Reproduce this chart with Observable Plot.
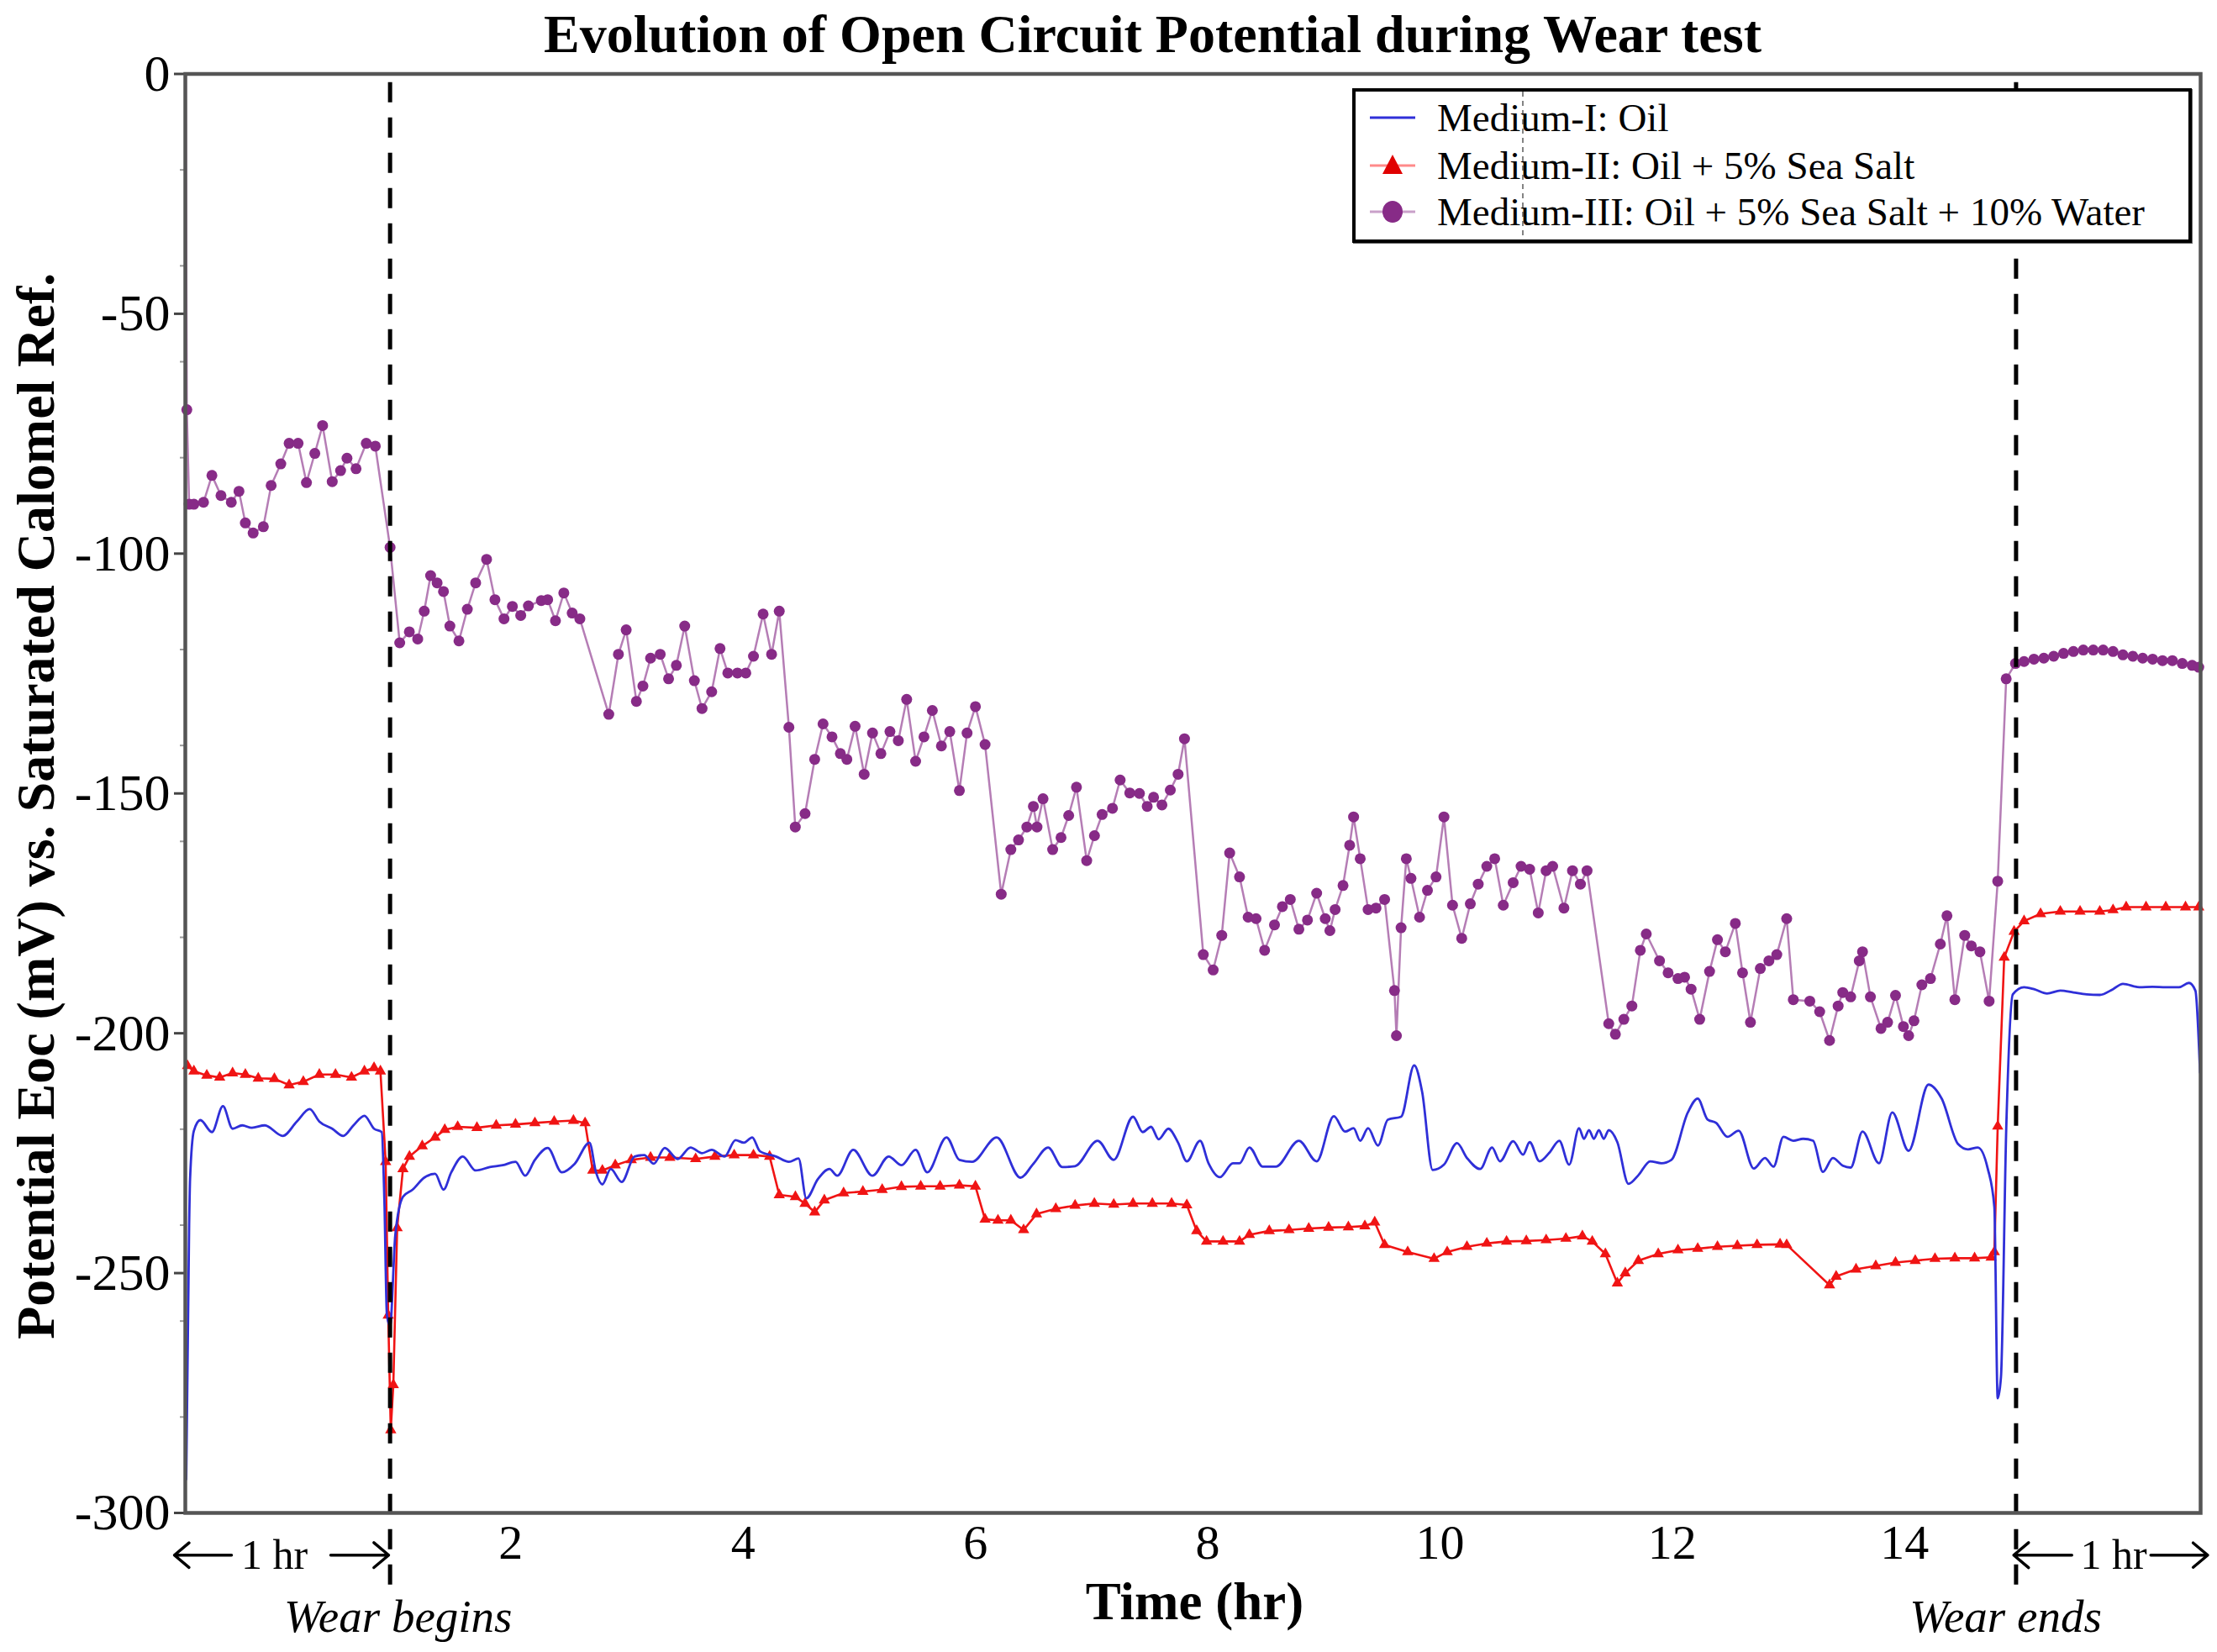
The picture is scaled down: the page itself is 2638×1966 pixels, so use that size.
<!DOCTYPE html>
<html>
<head>
<meta charset="utf-8">
<script src="https://cdn.jsdelivr.net/npm/d3@7"></script>
<script src="https://cdn.jsdelivr.net/npm/@observablehq/plot@0.6"></script>
<style>
  html, body { margin: 0; padding: 0; background: #fff; }
  #wrap { position: relative; width: 2638px; height: 1966px; overflow: hidden; }
  #legend { position: absolute; left: 1609px; top: 105px; width: 991px; height: 176px;
            border: 4px solid #000; background: #fff; box-shadow: 1px 1px 0 #666; }
  #legend svg { display: block; }
</style>
</head>
<body>
<div id="wrap"></div>
<script>
// ---------------- data (time in hours, potential in mV) ----------------
const title = "Evolution of Open Circuit Potential during Wear test";
const yLabel = "Potential Eoc (mV) vs. Saturated Calomel Ref.";
const xLabel = "Time (hr)";
const seriesNames = ["Medium-I: Oil", "Medium-II: Oil + 5% Sea Salt", "Medium-III: Oil + 5% Sea Salt + 10% Water"];
const yTicks = [0, -50, -100, -150, -200, -250, -300];
const yMinorTicks = [-20, -40, -60, -80, -120, -140, -160, -180, -220, -240, -260, -280];
const xTicks = [2, 4, 6, 8, 10, 12, 14];
const xDomain = [-0.803, 16.549];
const yDomain = [-300, 0];
const wearTimes = [0.96, 14.96];
const wearLabels = [{t: 1.03, label: "Wear begins"}, {t: 14.87, label: "Wear ends"}];
const hourLabels = [{t: -0.036, label: "1 hr"}, {t: 15.80, label: "1 hr"}];
const hourArrows = [{a: -0.405, b: -0.897}, {a: 0.449, b: 0.948}, {a: 15.44, b: 14.94}, {a: 16.12, b: 16.61}];
const arrowLevel = -308.8;
const ruleTop = -1.8, ruleBottom = -316.3;

// Medium-I: Oil (blue)
const oil = [[-0.795,-293.0],[-0.770,-240],[-0.762,-230.4],[-0.729,-220.3],[-0.673,-218.1],[-0.574,-220.6],[-0.479,-215.2],[-0.396,-219.9],[-0.313,-219.2],[-0.230,-219.7],[-0.119,-219.2],[0.036,-221.4],[0.157,-218.4],[0.268,-215.8],[0.351,-218.4],[0.462,-219.9],[0.556,-221.4],[0.645,-219.2],[0.739,-217.2],[0.822,-219.9],[0.888,-220.6],[0.911,-234.8],[0.933,-258.8],[0.960,-261.0],[1.005,-242.1],[1.071,-234.1],[1.154,-232.6],[1.254,-230.1],[1.348,-229.3],[1.420,-232.6],[1.487,-229.0],[1.586,-225.7],[1.697,-228.6],[1.819,-227.9],[1.930,-227.5],[2.040,-226.8],[2.123,-229.7],[2.207,-226.4],[2.317,-223.9],[2.439,-229.0],[2.550,-227.2],[2.677,-222.8],[2.733,-229.0],[2.788,-231.5],[2.860,-228.3],[2.954,-231.0],[3.065,-225.7],[3.148,-225.4],[3.231,-227.2],[3.325,-223.9],[3.436,-226.2],[3.547,-223.8],[3.646,-225.0],[3.729,-224.3],[3.840,-225.7],[3.934,-222.3],[4.006,-222.8],[4.078,-221.7],[4.145,-224.6],[4.283,-225.7],[4.394,-226.8],[4.477,-226.1],[4.544,-234.4],[4.644,-230.4],[4.743,-228.3],[4.810,-229.7],[4.948,-224.3],[5.114,-229.7],[5.253,-225.7],[5.364,-227.5],[5.485,-224.3],[5.585,-229.0],[5.751,-221.7],[5.862,-226.4],[5.972,-226.8],[6.183,-221.7],[6.388,-230.1],[6.499,-227.2],[6.626,-223.8],[6.748,-227.9],[6.858,-227.7],[7.052,-222.4],[7.191,-226.4],[7.357,-217.4],[7.440,-220.6],[7.512,-219.5],[7.578,-222.1],[7.661,-219.9],[7.745,-222.8],[7.820,-226.7],[7.934,-222.4],[8.007,-227.1],[8.104,-230.0],[8.217,-227.1],[8.274,-227.1],[8.359,-223.8],[8.473,-227.8],[8.586,-227.8],[8.785,-222.4],[8.938,-226.7],[9.086,-217.3],[9.183,-220.5],[9.256,-219.8],[9.313,-222.4],[9.381,-219.8],[9.466,-223.4],[9.551,-218.0],[9.665,-217.4],[9.778,-206.7],[9.846,-212.2],[9.937,-228.5],[10.034,-227.4],[10.147,-222.9],[10.232,-226.0],[10.346,-228.3],[10.448,-223.8],[10.516,-226.7],[10.630,-222.5],[10.715,-225.3],[10.772,-222.7],[10.857,-226.7],[10.942,-224.9],[11.027,-222.4],[11.112,-227.4],[11.197,-219.8],[11.240,-222.0],[11.283,-220.2],[11.325,-222.0],[11.368,-220.2],[11.410,-222.0],[11.453,-220.2],[11.527,-222.7],[11.623,-231.4],[11.708,-229.6],[11.810,-226.7],[11.907,-227.1],[11.992,-226.4],[12.134,-216.5],[12.219,-213.6],[12.304,-218.0],[12.378,-218.7],[12.475,-221.6],[12.571,-220.3],[12.702,-228.2],[12.798,-226.0],[12.872,-227.8],[12.957,-221.6],[13.042,-222.4],[13.127,-222.0],[13.212,-222.4],[13.297,-228.9],[13.383,-226.0],[13.468,-227.6],[13.536,-228.0],[13.638,-220.5],[13.780,-227.1],[13.894,-216.5],[14.035,-224.5],[14.206,-210.7],[14.319,-213.6],[14.461,-223.1],[14.546,-224.2],[14.631,-223.8],[14.716,-228.2],[14.773,-236.2],[14.802,-276.1],[14.830,-271.7],[14.876,-219.4],[14.932,-191.9],[15.029,-190.4],[15.114,-190.8],[15.227,-191.7],[15.341,-191.1],[15.454,-191.5],[15.568,-191.9],[15.681,-192.0],[15.795,-190.8],[15.880,-189.7],[16.022,-190.4],[16.135,-190.3],[16.249,-190.4],[16.363,-190.4],[16.448,-189.5],[16.504,-191.1],[16.544,-208.2]];

// Medium-II: Oil + 5% Sea Salt (red)
const oilSalt = [[-0.784,-206.8],[-0.729,-207.9],[-0.618,-208.8],[-0.507,-209.2],[-0.396,-208.3],[-0.286,-208.6],[-0.175,-209.4],[-0.036,-209.5],[0.091,-210.8],[0.213,-210.1],[0.351,-208.6],[0.490,-208.6],[0.628,-209.2],[0.739,-207.9],[0.822,-207.2],[0.877,-207.9],[0.922,-226.8],[0.944,-258.8],[0.966,-282.7],[0.988,-273.3],[1.021,-240.6],[1.071,-228.3],[1.127,-225.7],[1.237,-223.5],[1.348,-221.7],[1.431,-220.1],[1.542,-219.5],[1.708,-219.7],[1.874,-219.2],[2.040,-219.0],[2.207,-218.7],[2.373,-218.4],[2.539,-218.2],[2.639,-218.7],[2.705,-228.6],[2.788,-228.6],[2.899,-227.5],[3.037,-226.4],[3.203,-225.9],[3.369,-225.9],[3.591,-226.2],[3.757,-225.7],[3.923,-225.4],[4.089,-225.4],[4.228,-225.7],[4.311,-233.7],[4.450,-234.1],[4.533,-235.5],[4.616,-237.3],[4.699,-234.8],[4.865,-233.3],[5.031,-233.0],[5.197,-232.6],[5.363,-232.0],[5.529,-231.9],[5.696,-231.9],[5.862,-231.7],[6.000,-231.9],[6.083,-238.8],[6.194,-239.0],[6.305,-239.0],[6.415,-241.0],[6.526,-237.7],[6.692,-236.6],[6.858,-235.9],[7.024,-235.5],[7.191,-235.7],[7.357,-235.5],[7.523,-235.5],[7.689,-235.5],[7.820,-235.8],[7.905,-241.2],[7.990,-243.4],[8.132,-243.4],[8.274,-243.4],[8.359,-242.0],[8.530,-241.2],[8.700,-241.0],[8.870,-240.7],[9.041,-240.5],[9.211,-240.4],[9.353,-240.2],[9.438,-239.4],[9.523,-244.1],[9.722,-245.6],[9.949,-247.0],[10.062,-245.6],[10.232,-244.5],[10.403,-243.8],[10.573,-243.4],[10.743,-243.3],[10.914,-243.1],[11.084,-242.8],[11.226,-242.3],[11.311,-243.4],[11.424,-246.0],[11.527,-252.1],[11.595,-250.0],[11.708,-247.4],[11.879,-246.0],[12.049,-245.2],[12.219,-244.9],[12.389,-244.5],[12.560,-244.3],[12.730,-244.1],[12.928,-244.0],[12.985,-244.1],[13.354,-252.5],[13.411,-250.7],[13.582,-249.2],[13.752,-248.5],[13.922,-247.8],[14.092,-247.4],[14.262,-247.0],[14.433,-246.9],[14.603,-246.9],[14.745,-246.7],[14.773,-245.6],[14.802,-219.4],[14.858,-184.2],[14.943,-178.8],[15.029,-176.6],[15.171,-175.1],[15.341,-174.6],[15.511,-174.6],[15.681,-174.6],[15.795,-174.3],[15.908,-173.7],[16.079,-173.7],[16.249,-173.7],[16.419,-173.7],[16.533,-173.7]];

// Medium-III: Oil + 5% Sea Salt + 10% Water (purple)
const oilSaltWater = [[-0.800,0],[-0.790,-70.0],[-0.770,-89.7],[-0.729,-89.7],[-0.646,-89.3],[-0.574,-83.7],[-0.496,-87.9],[-0.407,-89.3],[-0.341,-87.0],[-0.286,-93.6],[-0.219,-95.7],[-0.131,-94.4],[-0.064,-85.8],[0.019,-81.3],[0.091,-77.0],[0.168,-77.0],[0.240,-85.2],[0.312,-79.1],[0.379,-73.3],[0.462,-85.0],[0.534,-82.7],[0.589,-80.1],[0.667,-82.3],[0.755,-77.0],[0.833,-77.6],[0.960,-98.7],[1.043,-118.6],[1.126,-116.3],[1.198,-117.8],[1.254,-112.0],[1.309,-104.6],[1.365,-106.1],[1.420,-107.9],[1.475,-115.1],[1.553,-118.2],[1.625,-111.6],[1.697,-106.1],[1.791,-101.2],[1.863,-109.6],[1.941,-113.6],[2.013,-111.0],[2.085,-112.9],[2.151,-110.9],[2.262,-109.8],[2.317,-109.6],[2.384,-114.0],[2.456,-108.2],[2.528,-112.4],[2.594,-113.6],[2.843,-133.5],[2.926,-121.0],[2.993,-115.9],[3.081,-130.8],[3.137,-127.6],[3.203,-121.8],[3.286,-121.0],[3.358,-126.1],[3.425,-123.3],[3.497,-115.1],[3.580,-126.5],[3.646,-132.3],[3.729,-128.8],[3.801,-119.8],[3.868,-124.9],[3.951,-124.9],[4.023,-124.9],[4.089,-121.4],[4.172,-112.6],[4.245,-121.0],[4.311,-112.0],[4.394,-136.2],[4.449,-157.0],[4.533,-154.2],[4.616,-142.9],[4.688,-135.5],[4.765,-138.2],[4.837,-141.7],[4.893,-142.9],[4.964,-136.0],[5.042,-146.0],[5.114,-137.4],[5.186,-141.7],[5.264,-137.1],[5.336,-139.0],[5.408,-130.4],[5.485,-143.3],[5.557,-138.2],[5.629,-132.7],[5.707,-140.1],[5.779,-137.1],[5.862,-149.4],[5.928,-137.4],[6.000,-131.9],[6.083,-139.8],[6.222,-171.0],[6.305,-161.7],[6.371,-159.7],[6.443,-157.0],[6.499,-152.7],[6.530,-157.0],[6.582,-151.1],[6.665,-161.7],[6.737,-159.2],[6.803,-154.6],[6.870,-148.7],[6.958,-164.0],[7.025,-158.8],[7.091,-154.4],[7.180,-153.1],[7.246,-147.2],[7.329,-149.9],[7.412,-150.0],[7.479,-152.7],[7.534,-150.8],[7.606,-152.4],[7.678,-149.3],[7.745,-146.0],[7.800,-138.6],[7.962,-183.6],[8.047,-186.8],[8.121,-179.6],[8.189,-162.4],[8.274,-167.4],[8.348,-175.8],[8.416,-176.1],[8.490,-182.7],[8.575,-177.4],[8.643,-173.6],[8.711,-172.1],[8.785,-178.3],[8.859,-176.4],[8.938,-170.8],[9.012,-176.1],[9.052,-178.6],[9.097,-174.2],[9.165,-169.2],[9.222,-160.8],[9.256,-154.9],[9.313,-163.6],[9.381,-174.2],[9.449,-173.9],[9.523,-172.1],[9.608,-191.1],[9.625,-200.5],[9.665,-178.0],[9.710,-163.6],[9.750,-167.7],[9.824,-175.8],[9.892,-170.2],[9.966,-167.4],[10.034,-154.9],[10.108,-173.3],[10.187,-180.2],[10.261,-173.0],[10.329,-168.9],[10.403,-165.2],[10.471,-163.6],[10.545,-173.3],[10.630,-168.6],[10.698,-165.2],[10.772,-165.8],[10.846,-174.9],[10.914,-166.1],[10.970,-165.2],[11.067,-173.9],[11.141,-166.1],[11.209,-168.9],[11.266,-166.1],[11.453,-198.0],[11.510,-200.2],[11.583,-197.1],[11.652,-194.3],[11.725,-182.7],[11.776,-179.3],[11.890,-184.9],[11.964,-187.4],[12.049,-188.6],[12.106,-188.3],[12.162,-190.8],[12.236,-197.1],[12.321,-187.1],[12.389,-180.5],[12.457,-183.0],[12.543,-177.1],[12.605,-187.4],[12.673,-197.7],[12.758,-186.5],[12.832,-184.9],[12.900,-183.6],[12.985,-176.1],[13.042,-193.0],[13.184,-193.3],[13.269,-195.5],[13.354,-201.5],[13.428,-194.3],[13.468,-191.5],[13.536,-192.4],[13.610,-184.9],[13.638,-183.0],[13.706,-192.4],[13.797,-199.0],[13.854,-197.7],[13.922,-192.1],[13.990,-198.6],[14.035,-200.5],[14.081,-197.4],[14.149,-189.9],[14.223,-188.6],[14.308,-181.4],[14.365,-175.5],[14.433,-193.0],[14.518,-179.6],[14.575,-181.8],[14.649,-183.0],[14.728,-193.3],[14.802,-168.3],[14.875,-126.1],[14.955,-122.9],[15.029,-122.5],[15.114,-122.0],[15.199,-121.8],[15.284,-121.4],[15.369,-120.8],[15.454,-120.4],[15.539,-120.1],[15.625,-120.1],[15.710,-120.1],[15.795,-120.4],[15.880,-121.1],[15.965,-121.4],[16.050,-121.8],[16.136,-122.0],[16.221,-122.3],[16.306,-122.3],[16.391,-122.9],[16.476,-123.3],[16.533,-123.7]];

// ---------------- styles ----------------
const C_OIL = "#2f2fd8", C_SALT = "#f01414", C_WATER_LINE = "#b57db5", C_WATER_DOT = "#872b87";
const FONT = '"Liberation Serif", "Times New Roman", serif';

const T = d => d[0], V = d => d[1];

const chart = Plot.plot({
  width: 2638,
  height: 1966,
  marginTop: 87.5,
  marginLeft: 220,
  marginRight: 20,
  marginBottom: 166,
  style: {fontFamily: FONT, background: "#fff", overflow: "visible", color: "#000"},
  x: {domain: xDomain},
  y: {domain: yDomain},
  marks: [
    Plot.axisY(yMinorTicks, {tickSize: 6, tickFormat: () => "", stroke: "#9a9a9a", strokeWidth: 2, label: null}),
    Plot.axisY(yTicks, {tickSize: 13, tickPadding: 5, fontSize: 62, stroke: "#444", strokeWidth: 3, tickFormat: d => String(d), label: null}),
    Plot.axisX(xTicks, {tickSize: 0, tickPadding: 13, fontSize: 58, tickFormat: d => String(d), label: null}),
    // data
    Plot.line(oilSaltWater, {x: T, y: V, stroke: C_WATER_LINE, strokeWidth: 2.5}),
    Plot.dot(oilSaltWater.filter(d => d[1] < -5), {x: T, y: V, r: 6.5, fill: C_WATER_DOT, stroke: "none"}),
    Plot.line(oilSalt, {x: T, y: V, stroke: C_SALT, strokeWidth: 2.6}),
    Plot.dot(oilSalt, {x: T, y: V, symbol: "triangle", r: 5, fill: C_SALT, stroke: "none"}),
    Plot.line(oil, {x: T, y: V, stroke: C_OIL, strokeWidth: 2.8, curve: "monotone-x"}),
    // wear markers
    Plot.ruleX(wearTimes, {y1: ruleTop, y2: ruleBottom, stroke: "#000", strokeWidth: 5, strokeDasharray: "24,18"}),
    Plot.frame({stroke: "#555", strokeWidth: 4.5}),
    // annotations
    Plot.arrow(hourArrows, {x1: "a", x2: "b", y1: arrowLevel, y2: arrowLevel, stroke: "#000", strokeWidth: 3.5, headLength: 24, headAngle: 80}),
    Plot.text(hourLabels, {x: "t", text: "label", frameAnchor: "bottom", lineAnchor: "middle", dy: 50, fontSize: 50}),
    Plot.text(wearLabels, {x: "t", text: "label", frameAnchor: "bottom", lineAnchor: "middle", dy: 124, fontSize: 55, fontStyle: "italic"}),
    Plot.text([xLabel], {frameAnchor: "bottom", lineAnchor: "middle", dx: 2, dy: 106, fontSize: 63, fontWeight: "bold"}),
    Plot.text([yLabel], {frameAnchor: "left", textAnchor: "middle", lineAnchor: "middle", rotate: -90, dx: -177, dy: 15, fontSize: 64, fontWeight: "bold"}),
    Plot.text([title], {frameAnchor: "top", lineAnchor: "middle", dx: -48, dy: -46.5, fontSize: 64, fontWeight: "bold"})
  ]
});

const wrap = document.getElementById("wrap");
wrap.appendChild(chart);

// ---------------- legend ----------------
const legend = document.createElement("div");
legend.id = "legend";
const ns = "http://www.w3.org/2000/svg";
const lsvg = document.createElementNS(ns, "svg");
lsvg.setAttribute("width", 991);
lsvg.setAttribute("height", 176);
lsvg.style.fontFamily = FONT;
const rowY = [31, 88, 143];
const symX = 44;
function el(tag, attrs) {
  const e = document.createElementNS(ns, tag);
  for (const k in attrs) e.setAttribute(k, attrs[k]);
  lsvg.appendChild(e);
  return e;
}
const sampleLine = [C_OIL, "#ff8a8a", "#c9a0c9"];
seriesNames.forEach((name, i) => {
  el("line", {x1: symX - 27, x2: symX + 27, y1: rowY[i], y2: rowY[i], stroke: sampleLine[i], "stroke-width": 3});
  if (i === 1) {
    el("path", {d: `M${symX},${rowY[i] - 13} L${symX + 12},${rowY[i] + 10} L${symX - 12},${rowY[i] + 10} Z`, fill: "#e00000"});
  } else if (i === 2) {
    el("ellipse", {cx: symX, cy: rowY[i], rx: 12, ry: 13, fill: C_WATER_DOT});
  }
  const t = el("text", {x: 97, y: rowY[i], "dominant-baseline": "central", "font-size": 47, fill: "#000"});
  t.textContent = name;
});
el("line", {x1: 199, x2: 199, y1: 0, y2: 176, stroke: "#333", "stroke-width": 1.2, "stroke-dasharray": "6,5"});
legend.appendChild(lsvg);
wrap.appendChild(legend);
</script>
</body>
</html>
